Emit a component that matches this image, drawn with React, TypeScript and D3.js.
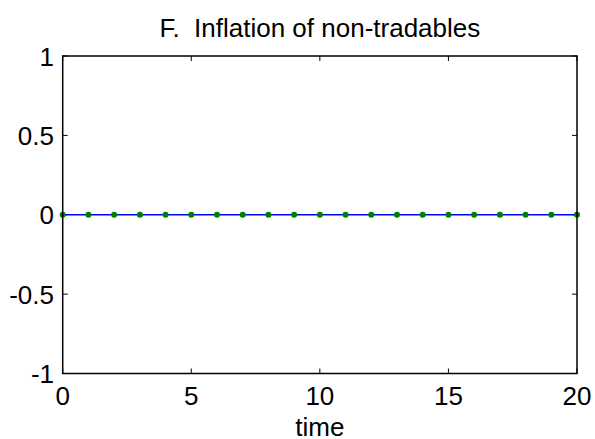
import React from "react";
import * as d3 from "d3";

const title = "F.  Inflation of non-tradables";
const xLabel = "time";
const times = [0, 1, 2, 3, 4, 5, 6, 7, 8, 9, 10, 11, 12, 13, 14, 15, 16, 17, 18, 19, 20];
const values = [0, 0, 0, 0, 0, 0, 0, 0, 0, 0, 0, 0, 0, 0, 0, 0, 0, 0, 0, 0, 0];
const xTicks = [0, 5, 10, 15, 20];
const yTicks = [-1, -0.5, 0, 0.5, 1];

const W = 595;
const H = 439;
const left = 62.7;
const right = 577;
const top = 56;
const bottom = 373.5;
const font = "Arial, 'Liberation Sans', Helvetica, sans-serif";
const fs = 26;
const tickLen = 5;

const App = () => {
  const x = d3.scaleLinear().domain([0, 20]).range([left, right]);
  const y = d3.scaleLinear().domain([-1, 1]).range([bottom, top]);
  const line = d3
    .line<number>()
    .x((_, i) => x(times[i]))
    .y((d) => y(d));

  return (
    <svg
      width={W}
      height={H}
      style={{ position: "absolute", left: 0, top: 0, background: "#fff" }}
    >
      <rect x={0} y={0} width={W} height={H} fill="#fff" />
      <text
        x={(left + right) / 2}
        y={36.5}
        textAnchor="middle"
        fontFamily={font}
        fontSize={fs}
        style={{ whiteSpace: "pre" }}
      >
        {title}
      </text>
      {/* ticks, inside on all four sides */}
      {xTicks.map((t) => (
        <g key={"x" + t}>
          <line x1={x(t)} x2={x(t)} y1={bottom} y2={bottom - tickLen} stroke="#000" />
          <line x1={x(t)} x2={x(t)} y1={top} y2={top + tickLen} stroke="#000" />
          <text x={x(t)} y={405} textAnchor="middle" fontFamily={font} fontSize={fs}>
            {t}
          </text>
        </g>
      ))}
      {yTicks.map((t) => (
        <g key={"y" + t}>
          <line x1={left} x2={left + tickLen} y1={y(t)} y2={y(t)} stroke="#000" />
          <line x1={right} x2={right - tickLen} y1={y(t)} y2={y(t)} stroke="#000" />
          <text x={54} y={y(t) + 9.5} textAnchor="end" fontFamily={font} fontSize={fs}>
            {t}
          </text>
        </g>
      ))}
      <text x={(left + right) / 2} y={435.5} textAnchor="middle" fontFamily={font} fontSize={fs}>
        {xLabel}
      </text>
      <path d={line(values) || ""} fill="none" stroke="#0000ff" strokeWidth={1.5} />
      {values.map((v, i) => (
        <circle key={i} cx={x(times[i])} cy={y(v)} r={3} fill="#008000" />
      ))}
      <rect
        x={left}
        y={top}
        width={right - left}
        height={bottom - top}
        fill="none"
        stroke="#000"
        strokeWidth={1.5}
      />
    </svg>
  );
};

export default App;
